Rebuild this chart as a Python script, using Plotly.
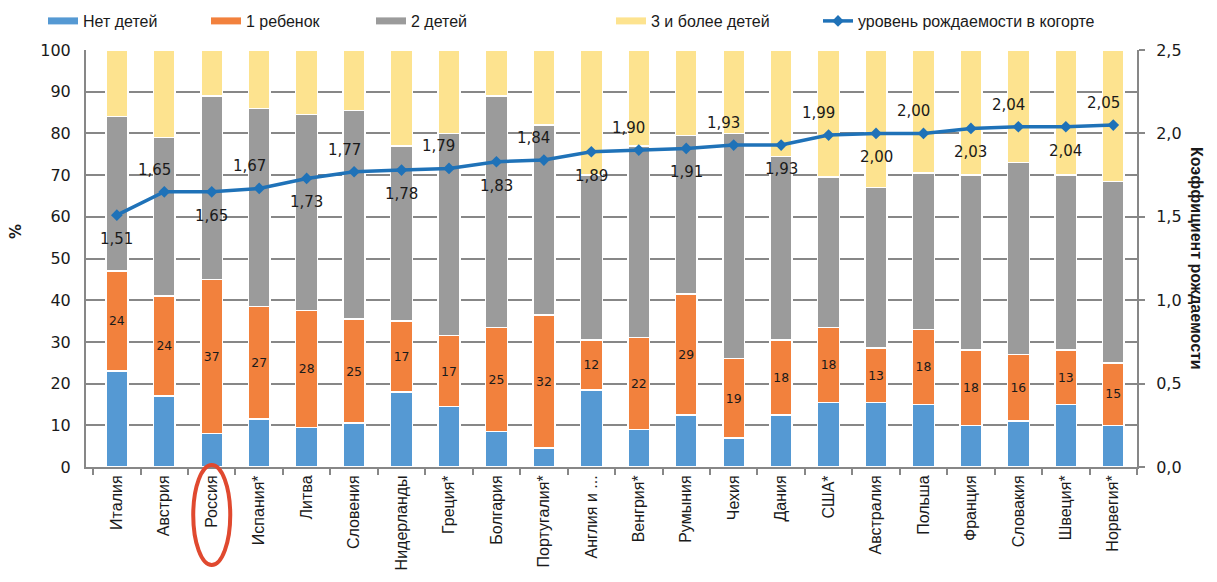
import plotly.graph_objects as go

countries = ["Италия", "Австрия", "Россия", "Испания*", "Литва", "Словения", "Нидерланды",
             "Греция*", "Болгария", "Португалия*", "Англия и ...", "Венгрия*", "Румыния", "Чехия",
             "Дания", "США*", "Австралия", "Польша", "Франция", "Словакия", "Швеция*", "Норвегия*"]
no_children = [23, 17, 8, 11.5, 9.5, 10.5, 18, 14.5, 8.5, 4.5, 18.5, 9, 12.5, 7, 12.5, 15.5, 15.5, 15, 10, 11, 15, 10]
one_child = [24, 24, 37, 27, 28, 25, 17, 17, 25, 32, 12, 22, 29, 19, 18, 18, 13, 18, 18, 16, 13, 15]
two_children = [37, 38, 44, 47.5, 47, 50, 42, 48.5, 55.5, 45.5, 39.5, 46, 38, 54, 44, 36, 38.5, 37.5, 42, 46, 42, 43.5]
three_plus = [16, 21, 11, 14, 15.5, 14.5, 23, 20, 11, 18, 30, 23, 20.5, 20, 25.5, 30.5, 33, 29.5, 30, 27, 30, 31.5]
tfr = [1.51, 1.65, 1.65, 1.67, 1.73, 1.77, 1.78, 1.79, 1.83, 1.84, 1.89, 1.90, 1.91, 1.93, 1.93,
       1.99, 2.00, 2.00, 2.03, 2.04, 2.04, 2.05]

series_names = ["Нет детей", "1 ребенок", "2 детей", "3 и более детей"]
line_name = "уровень рождаемости в когорте"
left_ticks = list(range(0, 101, 10))
right_ticks = [0, 0.5, 1.0, 1.5, 2.0, 2.5]

C_BLUE = "#5599d3"
C_ORANGE = "#f2813d"
C_GRAY = "#9b9b9b"
C_YELLOW = "#fde38f"
C_LINE = "#1f72b8"
GRID = "#878787"
TXT = "#1a1a1a"

W, H = 1217, 582
OFF = 8  # page body margin offset
fig = go.Figure()
values = [no_children, one_child, two_children, three_plus]
colors = [C_BLUE, C_ORANGE, C_GRAY, C_YELLOW]
for i, (name, vals, col) in enumerate(zip(series_names, values, colors)):
    kw = {}
    if i == 1:
        kw = dict(text=[str(v) for v in vals], textposition="inside", insidetextanchor="middle",
                  textangle=0, textfont=dict(family="DejaVu Sans", size=14, color=TXT))
    fig.add_trace(go.Bar(x=countries, y=vals, name=name, marker=dict(color=col, line=dict(color="white", width=1.5)),
                         width=0.46, showlegend=False, hoverinfo="skip", **kw))

fig.add_trace(go.Scatter(x=countries, y=tfr, yaxis="y2", mode="lines+markers", name=line_name,
                         line=dict(color=C_LINE, width=3.5),
                         marker=dict(symbol="diamond", size=9, color=C_LINE), showlegend=False))

# legend entries (separate legends for free placement)
legend_x = [50, 213, 378, 618, 825]
legend_ids = ["legend", "legend2", "legend3", "legend4", "legend5"]
for name, col, lid in zip(series_names, colors, legend_ids[:4]):
    fig.add_trace(go.Scatter(x=[None], y=[None], mode="lines", name=name,
                             line=dict(color=col, width=7), legend=lid, showlegend=True))
fig.add_trace(go.Scatter(x=[None], y=[None], mode="lines+markers", name=line_name,
                         line=dict(color=C_LINE, width=3.5), marker=dict(symbol="diamond", size=9, color=C_LINE),
                         legend="legend5", showlegend=True))

legend_common = dict(orientation="h", xref="container", yref="container", xanchor="left", yanchor="middle",
                     y=1 - (21 - OFF) / H, font=dict(family="Liberation Sans", size=16, color=TXT),
                     bgcolor="rgba(0,0,0,0)", itemwidth=30, tracegroupgap=0)
layout_legends = {}
for lid, px in zip(legend_ids, legend_x):
    layout_legends[lid] = dict(legend_common, x=(px - 7 - OFF) / W)

# plot area in screen pixels -> figure coords
PL, PR, PT, PB = 86 - OFF, 1137 - OFF, 50 - OFF, 467 - OFF
annotations = []
for i, (c, v) in enumerate(zip(countries, tfr)):
    above = (i % 2 == 1)
    annotations.append(dict(x=c, y=v, yref="y2", xref="x", text=f"{v:.2f}".replace(".", ","),
                            showarrow=False, yshift=22 if above else -24, xshift=-10 if above else 0,
                            font=dict(family="DejaVu Sans", size=15, color=TXT)))
annotations.append(dict(text="%", xref="paper", yref="paper", xanchor="center", yanchor="middle",
                        x=(16 - OFF - PL) / (PR - PL), y=(PB - (232 - OFF)) / (PB - PT),
                        showarrow=False, textangle=-90,
                        font=dict(family="DejaVu Sans", size=15, color=TXT, weight="bold")))
annotations.append(dict(text="Коэффициент рождаемости", xref="paper", yref="paper", xanchor="center",
                        yanchor="middle",
                        x=(1197 - OFF - PL) / (PR - PL), y=(PB - (258 - OFF)) / (PB - PT),
                        showarrow=False, textangle=90,
                        font=dict(family="Liberation Sans", size=16, color=TXT, weight="bold")))

fig.update_layout(
    width=W, height=H,
    margin=dict(l=PL, r=W - PR, t=PT, b=H - PB, autoexpand=False),
    paper_bgcolor="white", plot_bgcolor="white",
    barmode="stack", bargap=0.5,
    separators=", ",
    annotations=annotations,
    shapes=[dict(type="circle", xref="x", yref="paper", x0=1.61, x1=2.39, y0=0.005, y1=-0.235,
                 line=dict(color="#e0492f", width=4))],
    xaxis=dict(type="category", range=[-0.65, 21.5], showline=True, linecolor=GRID, linewidth=2,
               ticks="outside", tickson="boundaries", ticklen=6, tickcolor=GRID, tickwidth=2,
               tickangle=-90, tickfont=dict(family="Liberation Sans", size=16, color=TXT),
               showgrid=False, automargin=False),
    yaxis=dict(range=[0, 100], tickvals=left_ticks, showline=True, linecolor=GRID, linewidth=2,
               showgrid=True, gridcolor=GRID, gridwidth=2, ticks="outside", ticklen=10,
               tickcolor="rgba(0,0,0,0)", tickwidth=2,
               tickfont=dict(family="DejaVu Sans", size=16, color=TXT), zeroline=False, automargin=False),
    yaxis2=dict(range=[0, 2.5], tickvals=right_ticks, tickformat=".1f", overlaying="y", side="right",
                showline=True, linecolor=GRID, linewidth=2, showgrid=False, ticks="outside", ticklen=6,
                tickcolor=GRID, tickwidth=2, ticklabelstandoff=8,
                tickfont=dict(family="DejaVu Sans", size=16, color=TXT),
                zeroline=False, automargin=False),
    **layout_legends,
)

fig.write_html("out.html")
